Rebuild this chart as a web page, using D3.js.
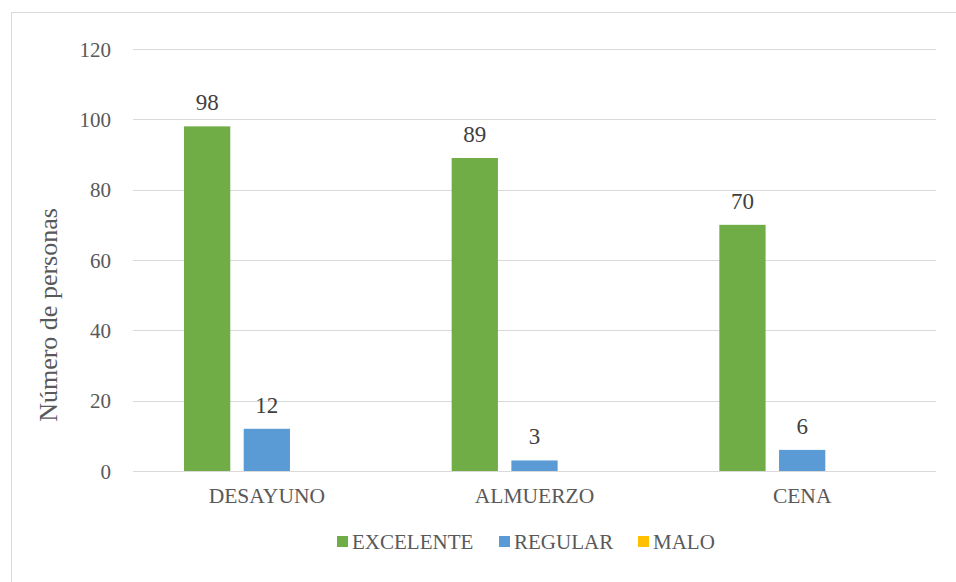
<!DOCTYPE html>
<html>
<head>
<meta charset="utf-8">
<script src="https://cdn.jsdelivr.net/npm/d3@7"></script>
</head>
<body style="margin:0;background:#fff">
<svg id="s" width="956" height="582" style="display:block"></svg>
<script>
// Meal quality survey: number of people per rating for each meal
const categories = ["DESAYUNO", "ALMUERZO", "CENA"];
const seriesNames = ["EXCELENTE", "REGULAR", "MALO"];
const excelente = [98, 89, 70];
const regular = [12, 3, 6];
const malo = [0, 0, 0];
const yTicks = [0, 20, 40, 60, 80, 100, 120];
const colors = ["#70ad47", "#5b9bd5", "#ffc000"];

const seriesValues = [excelente, regular, malo];
const font = size => `font-family:'Liberation Serif';font-size:${size}px`;

const svg = d3.select("#s");
const W = 956, H = 582;

// outer chart frame
svg.append("rect")
  .attr("x", 11.5).attr("y", 12.5)
  .attr("width", W + 20).attr("height", H + 20)
  .attr("fill", "#fff").attr("stroke", "#d9d9d9").attr("stroke-width", 1);

const plot = { left: 133, right: 936, top: 49, bottom: 471 };

const y = d3.scaleLinear().domain([0, 120]).range([plot.bottom, plot.top]);
const x0 = d3.scaleBand().domain(categories).range([plot.left, plot.right]).padding(0);
const outer = 51;
const x1 = d3.scaleBand().domain(seriesNames)
  .range([outer, x0.bandwidth() - outer]).paddingInner(0.225).paddingOuter(0);

// horizontal gridlines
svg.append("g").selectAll("line").data(yTicks).join("line")
  .attr("x1", plot.left).attr("x2", plot.right)
  .attr("y1", d => Math.round(y(d)) + 0.5).attr("y2", d => Math.round(y(d)) + 0.5)
  .attr("stroke", "#d9d9d9").attr("stroke-width", 1);

// y axis tick labels
const yAxis = d3.axisLeft(y).tickValues(yTicks).tickSize(0).tickPadding(0);
const gy = svg.append("g").attr("transform", "translate(111,0)").call(yAxis);
gy.attr("font-family", null).attr("font-size", null);
gy.select(".domain").remove();
gy.selectAll("text")
  .attr("style", font(21))
  .attr("fill", "#595959").attr("dy", "0.34em");

// bars
const rows = [];
categories.forEach((c, i) => {
  seriesNames.forEach((s, j) => rows.push({ cat: c, series: s, value: seriesValues[j][i], color: colors[j] }));
});

svg.append("g").selectAll("rect").data(rows).join("rect")
  .attr("x", d => x0(d.cat) + x1(d.series))
  .attr("y", d => y(d.value))
  .attr("width", x1.bandwidth())
  .attr("height", d => y(0) - y(d.value))
  .attr("fill", d => d.color);

// value labels
svg.append("g").selectAll("text").data(rows.filter(d => d.value > 0)).join("text")
  .attr("x", d => x0(d.cat) + x1(d.series) + x1.bandwidth() / 2)
  .attr("y", d => y(d.value) - 16)
  .attr("text-anchor", "middle")
  .attr("style", font(23))
  .attr("fill", "#404040")
  .text(d => d.value);

// category labels
const xAxis = d3.axisBottom(x0).tickSize(0).tickPadding(0);
const gx = svg.append("g").attr("transform", `translate(0,${plot.bottom})`).call(xAxis);
gx.attr("font-family", null).attr("font-size", null);
gx.select(".domain").remove();
gx.selectAll("text")
  .attr("style", font(21.5))
  .attr("fill", "#595959")
  .attr("y", 32).attr("dy", 0);

// y axis title
svg.append("text")
  .attr("transform", "translate(57,315) rotate(-90)")
  .attr("text-anchor", "middle")
  .attr("style", font(26))
  .attr("fill", "#595959")
  .text("Número de personas");

// legend
const legendX = [337, 499, 638];
const lg = svg.append("g").selectAll("g").data(seriesNames).join("g")
  .attr("transform", (d, i) => `translate(${legendX[i]},536)`);
lg.append("rect").attr("width", 11).attr("height", 11).attr("fill", (d, i) => colors[i]);
lg.append("text").attr("x", 15).attr("y", 12.5)
  .attr("style", font(21))
  .attr("fill", "#595959").text(d => d);
</script>
</body>
</html>
